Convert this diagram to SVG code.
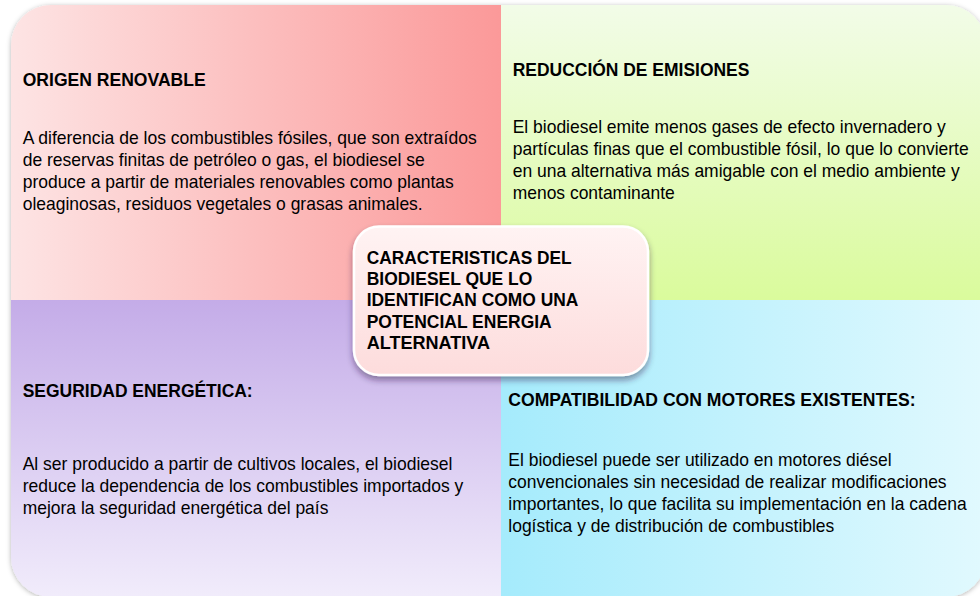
<svg xmlns="http://www.w3.org/2000/svg" width="980" height="596" viewBox="0 0 980 596">
  <style>
    .t { font-family: "Liberation Sans", Arial, sans-serif; font-size: 18.5px; fill: #000; }
    .b { font-weight: bold; }
  </style>
  <defs>
    <linearGradient id="gTL" x1="0" y1="0" x2="1" y2="0">
      <stop offset="0" stop-color="#fde4e4"/>
      <stop offset="1" stop-color="#fb9999"/>
    </linearGradient>
    <linearGradient id="gTR" x1="0" y1="0" x2="0" y2="1">
      <stop offset="0" stop-color="#f2fce8"/>
      <stop offset="1" stop-color="#dafb9c"/>
    </linearGradient>
    <linearGradient id="gBL" x1="0" y1="0" x2="0" y2="1">
      <stop offset="0" stop-color="#c4ace8"/>
      <stop offset="1" stop-color="#f1ecfb"/>
    </linearGradient>
    <linearGradient id="gBR" x1="0" y1="0" x2="1" y2="0">
      <stop offset="0" stop-color="#a5ebfc"/>
      <stop offset="1" stop-color="#e1f9fe"/>
    </linearGradient>
    <linearGradient id="gC" x1="0" y1="0" x2="0" y2="1">
      <stop offset="0" stop-color="#fff3f3"/>
      <stop offset="1" stop-color="#fddcdc"/>
    </linearGradient>
    <filter id="sh" x="-5%" y="-5%" width="110%" height="110%">
      <feDropShadow dx="0" dy="1" stdDeviation="2.5" flood-color="#000" flood-opacity="0.3"/>
    </filter>
    <filter id="shC" x="-10%" y="-10%" width="120%" height="130%">
      <feDropShadow dx="0" dy="4" stdDeviation="3" flood-color="#2a1a40" flood-opacity="0.45"/>
    </filter>
  </defs>
  <rect width="980" height="596" fill="#ffffff"/>

  <g id="matrix" filter="url(#sh)">
    <g id="q-origen">
      <path d="M11,300 V45 A40,40 0 0 1 51,5 H501 V300 Z" fill="url(#gTL)"/>
    </g>
    <g id="q-reduccion">
      <path d="M501,5 H946 A40,40 0 0 1 986,45 V300 H501 Z" fill="url(#gTR)"/>
    </g>
    <g id="q-seguridad">
      <path d="M11,300 H501 V597 H51 A40,40 0 0 1 11,557 Z" fill="url(#gBL)"/>
    </g>
    <g id="q-compatibilidad">
      <path d="M501,300 H986 V557 A40,40 0 0 1 946,597 H501 Z" fill="url(#gBR)"/>
    </g>
  </g>

  <g id="text-origen">
    <text class="t b" x="22.7" y="86" textLength="183" lengthAdjust="spacingAndGlyphs">ORIGEN RENOVABLE</text>
    <text class="t" x="22.7" y="144" textLength="454" lengthAdjust="spacingAndGlyphs">A diferencia de los combustibles fósiles, que son extraídos</text>
    <text class="t" x="22.7" y="166" textLength="402" lengthAdjust="spacingAndGlyphs">de reservas finitas de petróleo o gas, el biodiesel se</text>
    <text class="t" x="22.7" y="188" textLength="431" lengthAdjust="spacingAndGlyphs">produce a partir de materiales renovables como plantas</text>
    <text class="t" x="22.7" y="210" textLength="400" lengthAdjust="spacingAndGlyphs">oleaginosas, residuos vegetales o grasas animales.</text>
  </g>

  <g id="text-reduccion">
    <text class="t b" x="512.7" y="76" textLength="236.7" lengthAdjust="spacingAndGlyphs">REDUCCIÓN DE EMISIONES</text>
    <text class="t" x="512.7" y="133.3" textLength="433" lengthAdjust="spacingAndGlyphs">El biodiesel emite menos gases de efecto invernadero y</text>
    <text class="t" x="512.7" y="155.3" textLength="456" lengthAdjust="spacingAndGlyphs">partículas finas que el combustible fósil, lo que lo convierte</text>
    <text class="t" x="512.7" y="177.3" textLength="447" lengthAdjust="spacingAndGlyphs">en una alternativa más amigable con el medio ambiente y</text>
    <text class="t" x="512.7" y="199.3" textLength="162" lengthAdjust="spacingAndGlyphs">menos contaminante</text>
  </g>

  <g id="text-seguridad">
    <text class="t b" x="22.7" y="396.7" textLength="230" lengthAdjust="spacingAndGlyphs">SEGURIDAD ENERGÉTICA:</text>
    <text class="t" x="22.7" y="470" textLength="429.7" lengthAdjust="spacingAndGlyphs">Al ser producido a partir de cultivos locales, el biodiesel</text>
    <text class="t" x="22.7" y="492" textLength="440.7" lengthAdjust="spacingAndGlyphs">reduce la dependencia de los combustibles importados y</text>
    <text class="t" x="22.7" y="514" textLength="305.7" lengthAdjust="spacingAndGlyphs">mejora la seguridad energética del país</text>
  </g>

  <g id="text-compatibilidad">
    <text class="t b" x="508.3" y="405.7" textLength="407.3" lengthAdjust="spacingAndGlyphs">COMPATIBILIDAD CON MOTORES EXISTENTES:</text>
    <text class="t" x="508.3" y="465.7" textLength="383.3" lengthAdjust="spacingAndGlyphs">El biodiesel puede ser utilizado en motores diésel</text>
    <text class="t" x="508.3" y="487.7" textLength="438.3" lengthAdjust="spacingAndGlyphs">convencionales sin necesidad de realizar modificaciones</text>
    <text class="t" x="508.3" y="509.5" textLength="458.3" lengthAdjust="spacingAndGlyphs">importantes, lo que facilita su implementación en la cadena</text>
    <text class="t" x="508.3" y="531.5" textLength="326" lengthAdjust="spacingAndGlyphs">logística y de distribución de combustibles</text>
  </g>

  <g id="center">
    <rect x="354" y="226.5" width="294" height="148.5" rx="25" ry="25" fill="url(#gC)" stroke="#ffffff" stroke-width="2.5" filter="url(#shC)"/>
    <text class="t b" x="366.7" y="264" textLength="205" lengthAdjust="spacingAndGlyphs">CARACTERISTICAS DEL</text>
    <text class="t b" x="366.7" y="285" textLength="165.7" lengthAdjust="spacingAndGlyphs">BIODIESEL QUE LO</text>
    <text class="t b" x="366.7" y="306.3" textLength="211.7" lengthAdjust="spacingAndGlyphs">IDENTIFICAN COMO UNA</text>
    <text class="t b" x="366.7" y="327.5" textLength="185" lengthAdjust="spacingAndGlyphs">POTENCIAL ENERGIA</text>
    <text class="t b" x="366.7" y="349" textLength="123.3" lengthAdjust="spacingAndGlyphs">ALTERNATIVA</text>
  </g>
</svg>
